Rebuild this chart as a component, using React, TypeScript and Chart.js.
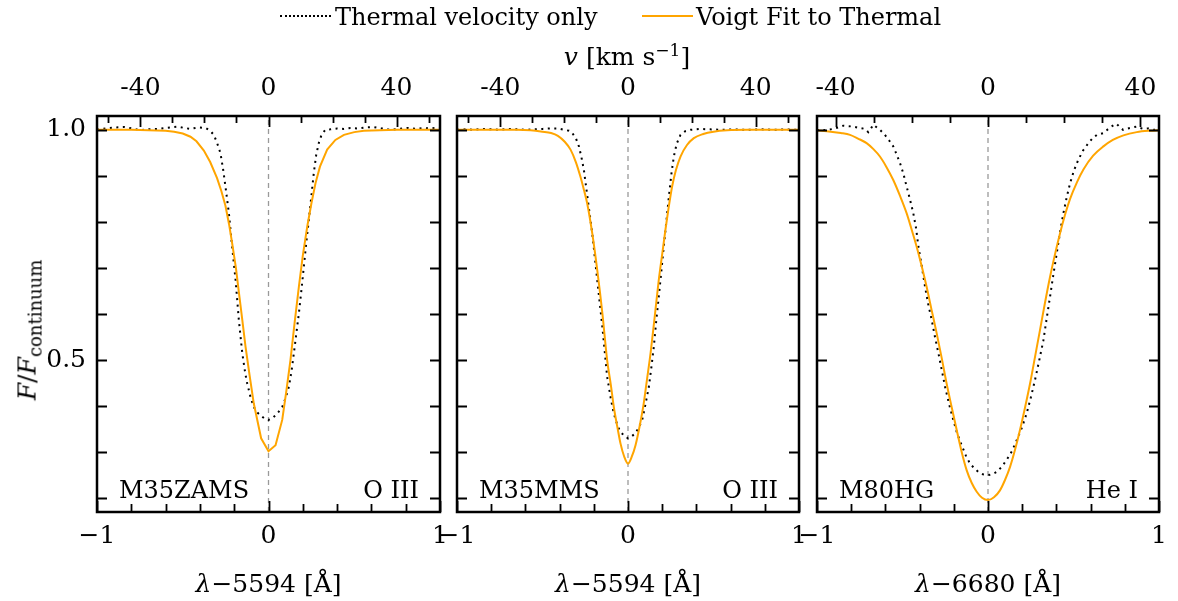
import React, { useEffect, useRef } from "react";
import { Chart, registerables } from "chart.js";

Chart.register(...registerables);

// ---------- data ----------
const Y_MIN = 0.17;
const Y_MAX = 1.03;
const C_KMS = 299792.458;

// tick values
const yTickValues = [0.2, 0.3, 0.4, 0.5, 0.6, 0.7, 0.8, 0.9, 1.0];
const yLabelValues = [0.5, 1.0];
const xTickValues = [-1, -0.8, -0.6, -0.4, -0.2, 0, 0.2, 0.4, 0.6, 0.8, 1];
const xLabelValues = [-1, 0, 1];
const vTickValues = [-50, -40, -30, -20, -10, 0, 10, 20, 30, 40, 50];
const vLabelValues = [-40, 0, 40];

// Panel 1: M35ZAMS, O III 5594
const m35zamsThermalX = [-1.0, -0.95, -0.9, -0.84, -0.78, -0.75, -0.7, -0.65, -0.6, -0.53, -0.49, -0.455, -0.41, -0.367, -0.34, -0.319, -0.3, -0.28, -0.265, -0.251, -0.231, -0.212, -0.192, -0.173, -0.153, -0.135, -0.124, -0.105, -0.086, -0.065, -0.047, -0.02, 0, 0.02, 0.041, 0.06, 0.08, 0.1, 0.119, 0.135, 0.148, 0.163, 0.177, 0.192, 0.206, 0.22, 0.235, 0.25, 0.264, 0.278, 0.293, 0.31, 0.332, 0.36, 0.4, 0.44, 0.478, 0.52, 0.56, 0.612, 0.66, 0.71, 0.76, 0.81, 0.86, 0.9, 0.94, 0.98, 1.0];
const m35zamsThermalY = [1.0, 1.003, 1.005, 1.006, 1.002, 0.999, 1.001, 1.002, 1.004, 1.007, 1.004, 1.002, 1.005, 1.004, 0.998, 0.989, 0.972, 0.949, 0.915, 0.877, 0.819, 0.746, 0.674, 0.587, 0.515, 0.47, 0.449, 0.42, 0.398, 0.386, 0.38, 0.372, 0.37, 0.373, 0.38, 0.388, 0.398, 0.418, 0.442, 0.478, 0.515, 0.56, 0.601, 0.652, 0.703, 0.754, 0.804, 0.856, 0.906, 0.945, 0.971, 0.99, 1.0, 1.001, 1.003, 1.002, 1.004, 1.003, 1.005, 1.006, 1.003, 1.0, 1.002, 1.004, 1.002, 1.004, 1.003, 1.004, 1.004];
const m35zamsVoigtX = [-1.0, -0.9, -0.8, -0.7, -0.6, -0.55, -0.5, -0.455, -0.42, -0.377, -0.34, -0.3, -0.275, -0.251, -0.23, -0.212, -0.19, -0.173, -0.153, -0.134, -0.11, -0.086, -0.043, 0, 0.041, 0.08, 0.105, 0.128, 0.152, 0.177, 0.2, 0.226, 0.25, 0.274, 0.3, 0.342, 0.39, 0.44, 0.5, 0.556, 0.65, 0.75, 1.0];
const m35zamsVoigtY = [1.0, 1.0, 1.0, 0.999, 0.998, 0.996, 0.992, 0.985, 0.975, 0.955, 0.93, 0.895, 0.867, 0.835, 0.795, 0.754, 0.7, 0.648, 0.588, 0.529, 0.466, 0.406, 0.33, 0.302, 0.315, 0.37, 0.435, 0.5, 0.58, 0.659, 0.727, 0.79, 0.84, 0.884, 0.92, 0.957, 0.978, 0.989, 0.995, 0.998, 0.999, 1.0, 1.0];

// Panel 2: M35MMS, O III 5594
const m35mmsThermalX = [-1.0, -0.95, -0.9, -0.85, -0.8, -0.75, -0.7, -0.65, -0.6, -0.55, -0.5, -0.45, -0.41, -0.375, -0.345, -0.326, -0.305, -0.287, -0.272, -0.258, -0.235, -0.209, -0.18, -0.15, -0.122, -0.1, -0.083, -0.06, -0.044, -0.02, 0, 0.02, 0.044, 0.065, 0.083, 0.1, 0.122, 0.137, 0.151, 0.165, 0.18, 0.195, 0.209, 0.225, 0.239, 0.254, 0.268, 0.285, 0.307, 0.335, 0.365, 0.42, 0.48, 0.55, 0.62, 0.7, 0.78, 0.86, 0.93, 1.0];
const m35mmsThermalY = [1.0, 1.001, 1.0, 1.002, 1.001, 1.0, 1.002, 1.001, 1.0, 1.001, 1.002, 1.003, 1.003, 1.0, 0.998, 0.993, 0.982, 0.964, 0.94, 0.913, 0.848, 0.775, 0.674, 0.572, 0.464, 0.415, 0.384, 0.356, 0.344, 0.335, 0.33, 0.334, 0.341, 0.355, 0.37, 0.4, 0.442, 0.485, 0.529, 0.585, 0.638, 0.693, 0.746, 0.803, 0.855, 0.905, 0.942, 0.97, 0.989, 0.997, 1.0, 1.002, 1.001, 1.0, 1.001, 1.0, 1.001, 1.0, 1.001, 1.0];
const m35mmsVoigtX = [-1.0, -0.8, -0.65, -0.57, -0.5, -0.45, -0.41, -0.37, -0.336, -0.305, -0.278, -0.258, -0.239, -0.209, -0.18, -0.15, -0.122, -0.1, -0.083, -0.06, -0.044, -0.022, 0, 0.022, 0.044, 0.07, 0.092, 0.11, 0.132, 0.155, 0.18, 0.2, 0.219, 0.238, 0.258, 0.28, 0.307, 0.345, 0.385, 0.44, 0.5, 0.58, 0.7, 1.0];
const m35mmsVoigtY = [1.0, 1.0, 1.0, 0.999, 0.996, 0.993, 0.987, 0.974, 0.957, 0.93, 0.898, 0.87, 0.841, 0.775, 0.696, 0.602, 0.5, 0.445, 0.398, 0.35, 0.319, 0.29, 0.275, 0.29, 0.315, 0.36, 0.406, 0.455, 0.515, 0.59, 0.674, 0.73, 0.783, 0.832, 0.877, 0.912, 0.942, 0.967, 0.982, 0.991, 0.996, 0.999, 1.0, 1.0];

// Panel 3: M80HG, He I 6680
const m80hgThermalX = [-1.0, -0.98, -0.94, -0.905, -0.87, -0.846, -0.82, -0.788, -0.765, -0.749, -0.72, -0.7, -0.685, -0.67, -0.65, -0.632, -0.605, -0.58, -0.554, -0.535, -0.515, -0.495, -0.476, -0.457, -0.437, -0.42, -0.407, -0.39, -0.368, -0.35, -0.329, -0.31, -0.29, -0.27, -0.251, -0.228, -0.203, -0.18, -0.154, -0.13, -0.105, -0.08, -0.056, -0.03, 0, 0.025, 0.051, 0.08, 0.109, 0.14, 0.168, 0.197, 0.226, 0.25, 0.275, 0.3, 0.324, 0.343, 0.363, 0.382, 0.402, 0.421, 0.441, 0.46, 0.48, 0.503, 0.528, 0.556, 0.587, 0.61, 0.636, 0.675, 0.713, 0.735, 0.752, 0.77, 0.79, 0.83, 0.87, 0.89, 0.908, 0.94, 0.967, 1.0];
const m80hgThermalY = [1.0, 0.998, 1.0, 1.002, 1.006, 1.009, 1.008, 1.007, 1.005, 1.004, 1.002, 0.995, 1.003, 1.011, 1.005, 1.0, 0.99, 0.978, 0.964, 0.947, 0.928, 0.905, 0.877, 0.85, 0.819, 0.785, 0.746, 0.71, 0.659, 0.622, 0.587, 0.55, 0.515, 0.478, 0.442, 0.405, 0.37, 0.34, 0.315, 0.293, 0.275, 0.265, 0.257, 0.252, 0.25, 0.252, 0.257, 0.268, 0.283, 0.302, 0.326, 0.352, 0.384, 0.418, 0.457, 0.5, 0.543, 0.59, 0.638, 0.685, 0.732, 0.777, 0.819, 0.853, 0.884, 0.912, 0.935, 0.955, 0.971, 0.981, 0.989, 0.993, 1.005, 1.01, 1.013, 1.006, 1.0, 1.004, 1.007, 1.004, 1.002, 1.003, 1.0, 1.001];
const m80hgVoigtX = [-1.0, -0.92, -0.86, -0.807, -0.76, -0.71, -0.67, -0.632, -0.595, -0.554, -0.515, -0.476, -0.447, -0.417, -0.388, -0.359, -0.33, -0.3, -0.27, -0.242, -0.212, -0.183, -0.155, -0.125, -0.095, -0.066, -0.035, 0, 0.035, 0.07, 0.1, 0.129, 0.158, 0.187, 0.216, 0.246, 0.275, 0.304, 0.333, 0.363, 0.392, 0.421, 0.45, 0.48, 0.52, 0.558, 0.615, 0.675, 0.73, 0.792, 0.87, 0.947, 1.0];
const m80hgVoigtY = [0.999, 0.996, 0.993, 0.989, 0.981, 0.971, 0.958, 0.942, 0.92, 0.891, 0.857, 0.819, 0.784, 0.746, 0.704, 0.659, 0.609, 0.558, 0.503, 0.449, 0.397, 0.348, 0.302, 0.261, 0.233, 0.214, 0.201, 0.196, 0.202, 0.217, 0.24, 0.268, 0.305, 0.348, 0.396, 0.449, 0.507, 0.565, 0.624, 0.681, 0.73, 0.775, 0.815, 0.85, 0.886, 0.914, 0.944, 0.964, 0.978, 0.988, 0.995, 0.998, 0.999];

// ---------- layout / style ----------
const W = 1178;
const H = 601;
const TOP = 116;
const BOTTOM = 512;
const X_AXIS_H = 60;
const TOP_AXIS_H = 50;
const Y_AXIS_W = 60;
const FONT = "'DejaVu Serif', serif";
const ORANGE = "#FFA500";

type PanelCfg = {
  left: number;
  right: number;
  model: string;
  ion: string;
  rest: number;
  tx: number[];
  ty: number[];
  vx: number[];
  vy: number[];
  showY: boolean;
  smooth: boolean;
};

const PANELS: PanelCfg[] = [
  { left: 97, right: 440, model: "M35ZAMS", ion: "O III", rest: 5594, tx: m35zamsThermalX, ty: m35zamsThermalY, vx: m35zamsVoigtX, vy: m35zamsVoigtY, showY: true, smooth: false },
  { left: 457, right: 799, model: "M35MMS", ion: "O III", rest: 5594, tx: m35mmsThermalX, ty: m35mmsThermalY, vx: m35mmsVoigtX, vy: m35mmsVoigtY, showY: false, smooth: true },
  { left: 817, right: 1159, model: "M80HG", ion: "He I", rest: 6680, tx: m80hgThermalX, ty: m80hgThermalY, vx: m80hgVoigtX, vy: m80hgVoigtY, showY: false, smooth: true },
];

const fmtMinus = (v: number) => (v < 0 ? "\u2212" + Math.abs(v) : String(v));

const frameTicksPlugin = {
  id: "frameTicks",
  afterDatasetsDraw(chart: any) {
    const { ctx, chartArea } = chart;
    const { left, right, top, bottom } = chartArea;
    const sx = chart.scales.x;
    const sy = chart.scales.y;
    const sv = chart.scales.xTop;
    ctx.save();
    ctx.strokeStyle = "#000";
    ctx.lineWidth = 1.8;
    ctx.beginPath();
    for (const v of yTickValues) {
      const py = Math.round(sy.getPixelForValue(v)) + 0.5;
      ctx.moveTo(left, py);
      ctx.lineTo(left + 10, py);
      ctx.moveTo(right, py);
      ctx.lineTo(right - 10, py);
    }
    for (const v of xTickValues) {
      const px = Math.round(sx.getPixelForValue(v)) + 0.5;
      const len = xLabelValues.includes(v) ? 11 : 8;
      ctx.moveTo(px, bottom);
      ctx.lineTo(px, bottom - len);
    }
    for (const v of vTickValues) {
      const px = Math.round(sv.getPixelForValue(v)) + 0.5;
      if (px < left || px > right) continue;
      const len = vLabelValues.includes(v) ? 11 : 7;
      ctx.moveTo(px, top);
      ctx.lineTo(px, top + len);
    }
    ctx.stroke();
    ctx.lineWidth = 2.5;
    ctx.strokeRect(left, top, right - left, bottom - top);
    ctx.restore();
  },
};

function Panel({ cfg }: { cfg: PanelCfg }) {
  const ref = useRef<HTMLCanvasElement>(null);
  useEffect(() => {
    const vmax = C_KMS / cfg.rest;
    const tickFont = { family: FONT, size: 25 };
    const chart = new Chart(ref.current as HTMLCanvasElement, {
      type: "line",
      data: {
        datasets: [
          {
            label: "Voigt Fit to Thermal",
            data: cfg.vx.map((x, i) => ({ x, y: cfg.vy[i] })),
            borderColor: ORANGE,
            borderWidth: 2,
            pointRadius: 0,
            tension: 0,
            cubicInterpolationMode: cfg.smooth ? "monotone" : "default",
            order: 0,
          },
          {
            label: "Thermal velocity only",
            data: cfg.tx.map((x, i) => ({ x, y: cfg.ty[i] })),
            borderColor: "#000",
            borderWidth: 2,
            borderDash: [2, 4.5],
            pointRadius: 0,
            tension: 0,
            order: 1,
          },
          {
            label: "line centre",
            data: [
              { x: 0, y: Y_MIN },
              { x: 0, y: Y_MAX },
            ],
            borderColor: "#9a9a9a",
            borderWidth: 1.3,
            borderDash: [5, 4],
            pointRadius: 0,
            order: 2,
          },
        ],
      },
      options: {
        responsive: false,
        animation: false,
        devicePixelRatio: 1,
        layout: {
          padding: {
            left: cfg.left - Y_AXIS_W,
            right: W - cfg.right,
            top: TOP - TOP_AXIS_H,
            bottom: H - BOTTOM - X_AXIS_H,
          },
        },
        plugins: { legend: { display: false }, tooltip: { enabled: false } },
        scales: {
          x: {
            type: "linear",
            position: "bottom",
            min: -1,
            max: 1,
            grid: { display: false, drawTicks: false },
            border: { display: false },
            afterFit: (s: any) => {
              s.height = X_AXIS_H;
            },
            afterBuildTicks: (s: any) => {
              s.ticks = xLabelValues.map((v) => ({ value: v }));
            },
            ticks: {
              autoSkip: false,
              maxRotation: 0,
              minRotation: 0,
              padding: 9,
              color: "#000",
              font: tickFont,
              callback: (v: any) => fmtMinus(Number(v)),
            },
          },
          xTop: {
            type: "linear",
            position: "top",
            min: -vmax,
            max: vmax,
            grid: { display: false, drawTicks: false },
            border: { display: false },
            afterFit: (s: any) => {
              s.height = TOP_AXIS_H;
            },
            afterBuildTicks: (s: any) => {
              s.ticks = vLabelValues.map((v) => ({ value: v }));
            },
            ticks: {
              autoSkip: false,
              maxRotation: 0,
              minRotation: 0,
              padding: 13,
              color: "#000",
              font: tickFont,
              callback: (v: any) => String(v),
            },
          },
          y: {
            type: "linear",
            position: "left",
            min: Y_MIN,
            max: Y_MAX,
            grid: { display: false, drawTicks: false },
            border: { display: false },
            afterFit: (s: any) => {
              s.width = Y_AXIS_W;
            },
            afterBuildTicks: (s: any) => {
              s.ticks = yLabelValues.map((v) => ({ value: v }));
            },
            ticks: {
              display: cfg.showY,
              padding: 11,
              color: "#000",
              font: tickFont,
              callback: (v: any) => Number(v).toFixed(1),
            },
          },
        },
      },
      plugins: [frameTicksPlugin],
    } as any);
    return () => chart.destroy();
  }, [cfg]);
  return (
    <canvas
      ref={ref}
      width={W}
      height={H}
      style={{ position: "absolute", left: 0, top: 0, width: W, height: H }}
    />
  );
}

function Txt({
  x,
  baseline,
  align = "left",
  size = 24,
  children,
}: {
  x: number;
  baseline: number;
  align?: "left" | "center" | "right";
  size?: number;
  children: React.ReactNode;
}) {
  const tx = align === "center" ? "-50%" : align === "right" ? "-100%" : "0";
  return (
    <div
      style={{
        position: "absolute",
        left: x,
        top: baseline - 0.846 * size,
        fontFamily: FONT,
        fontSize: size,
        lineHeight: 1,
        whiteSpace: "nowrap",
        color: "#000",
        transform: `translateX(${tx})`,
      }}
    >
      {children}
    </div>
  );
}

export default function App() {
  return (
    <div style={{ position: "absolute", left: 0, top: 0, width: W, height: H, overflow: "hidden", background: "#fff" }}>
      {PANELS.map((p, i) => (
        <Panel key={i} cfg={p} />
      ))}

      {/* legend */}
      <div style={{ position: "absolute", left: 280, top: 15, width: 51, borderTop: "2px dotted #000" }} />
      <Txt x={335} baseline={25} size={24}>Thermal velocity only</Txt>
      <div style={{ position: "absolute", left: 642, top: 15, width: 51, borderTop: `2px solid ${ORANGE}` }} />
      <Txt x={696} baseline={25} size={24}>Voigt Fit to Thermal</Txt>

      {/* top axis title */}
      <Txt x={627} baseline={65} align="center" size={25}>
        <i>v</i> [km s<span style={{ fontSize: 17, verticalAlign: "9px", lineHeight: 0 }}>{"\u22121"}</span>]
      </Txt>

      {/* bottom axis titles */}
      {PANELS.map((p, i) => (
        <Txt key={"bt" + i} x={(p.left + p.right) / 2} baseline={592} align="center" size={25}>
          <i>λ</i>{"\u2212" + p.rest} [Å]
        </Txt>
      ))}

      {/* panel annotations */}
      {PANELS.map((p, i) => (
        <React.Fragment key={"an" + i}>
          <Txt x={p.left + 22} baseline={498} size={24}>{p.model}</Txt>
          <Txt x={p.right - 21} baseline={498} align="right" size={24}>{p.ion}</Txt>
        </React.Fragment>
      ))}

      {/* y axis title */}
      <div
        style={{
          position: "absolute",
          left: 27,
          top: 330,
          transform: "translate(-50%, -50%) rotate(-90deg)",
          fontFamily: FONT,
          fontSize: 25,
          lineHeight: 1,
          whiteSpace: "nowrap",
          color: "#000",
        }}
      >
        <i>F</i>/<i>F</i>
        <span style={{ fontSize: 18, verticalAlign: "-6px", lineHeight: 0 }}>continuum</span>
      </div>
    </div>
  );
}
